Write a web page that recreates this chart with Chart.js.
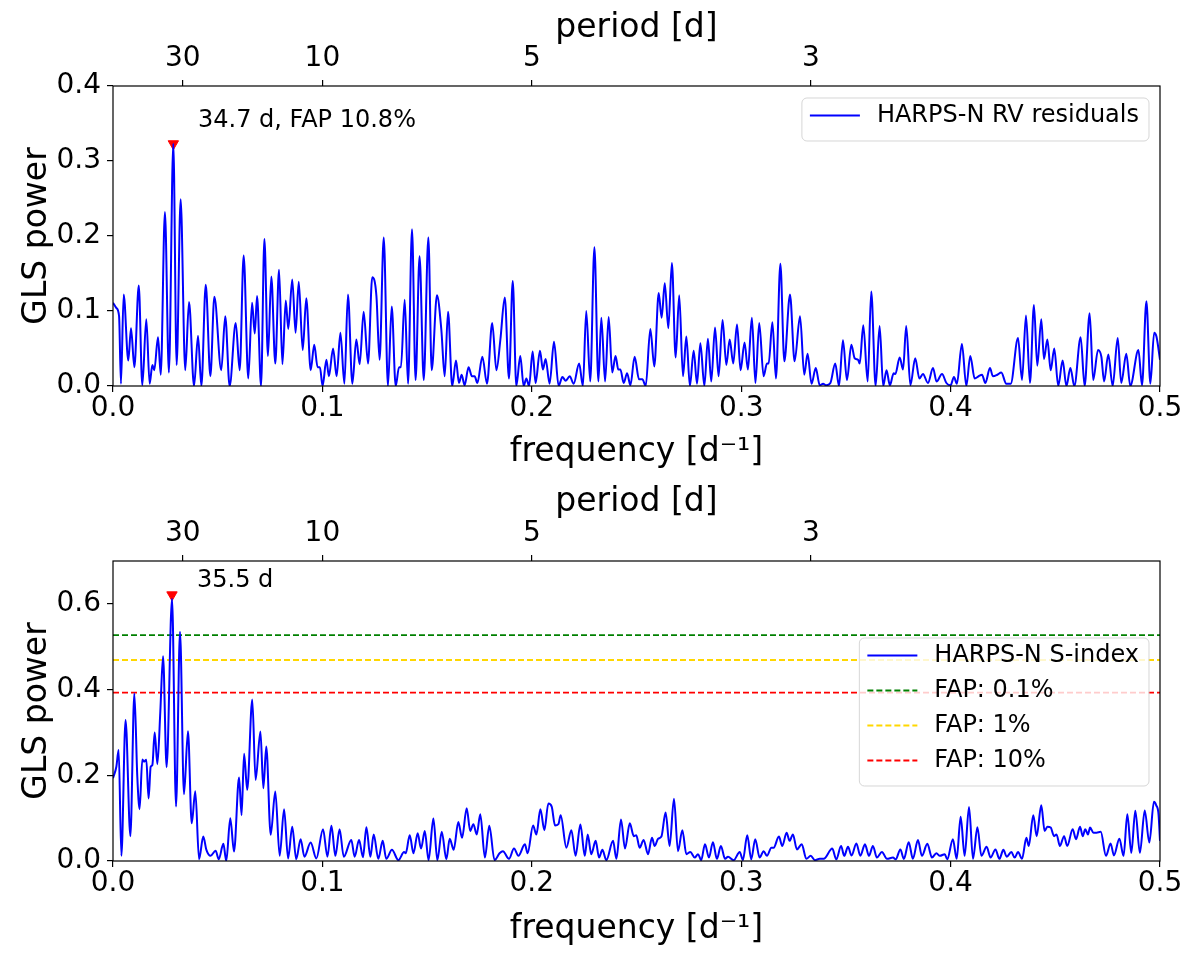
<!DOCTYPE html>
<html><head><meta charset="utf-8">
<script src="https://cdn.jsdelivr.net/npm/chart.js@4/dist/chart.umd.min.js"></script>
<style>
body{margin:0;background:#fff}
.p{position:absolute;left:0;width:1200px;height:477px}
#w1{top:0}#w2{top:477px}
</style></head><body>
<div class="p" id="w1"><canvas id="c1"></canvas></div>
<div class="p" id="w2"><canvas id="c2"></canvas></div>
<script>
// ---- data ----
const freqTop=[0.0000,0.0016,0.0029,0.0038,0.0051,0.0073,0.0086,0.0102,0.0123,0.0140,0.0159,0.0175,0.0188,0.0197,0.0215,0.0228,0.0248,0.0267,0.0288,0.0304,0.0323,0.0345,0.0363,0.0387,0.0406,0.0422,0.0443,0.0465,0.0484,0.0517,0.0536,0.0557,0.0586,0.0605,0.0624,0.0646,0.0664,0.0677,0.0688,0.0707,0.0723,0.0740,0.0756,0.0775,0.0793,0.0809,0.0825,0.0837,0.0856,0.0872,0.0887,0.0906,0.0923,0.0944,0.0961,0.0977,0.0988,0.1001,0.1019,0.1031,0.1051,0.1068,0.1086,0.1105,0.1122,0.1143,0.1162,0.1178,0.1197,0.1218,0.1238,0.1258,0.1273,0.1293,0.1313,0.1331,0.1350,0.1366,0.1375,0.1393,0.1409,0.1428,0.1445,0.1464,0.1484,0.1506,0.1522,0.1547,0.1568,0.1584,0.1600,0.1620,0.1638,0.1652,0.1665,0.1679,0.1698,0.1714,0.1727,0.1740,0.1764,0.1786,0.1811,0.1831,0.1850,0.1871,0.1891,0.1909,0.1926,0.1945,0.1961,0.1974,0.1987,0.2004,0.2018,0.2039,0.2053,0.2066,0.2085,0.2106,0.2128,0.2146,0.2162,0.2181,0.2200,0.2226,0.2244,0.2260,0.2279,0.2299,0.2318,0.2332,0.2350,0.2367,0.2384,0.2400,0.2413,0.2423,0.2439,0.2455,0.2471,0.2491,0.2512,0.2528,0.2544,0.2566,0.2585,0.2606,0.2620,0.2635,0.2652,0.2669,0.2687,0.2704,0.2722,0.2738,0.2755,0.2773,0.2789,0.2805,0.2824,0.2841,0.2857,0.2875,0.2892,0.2911,0.2929,0.2945,0.2962,0.2980,0.2997,0.3016,0.3032,0.3051,0.3068,0.3086,0.3107,0.3123,0.3131,0.3149,0.3166,0.3187,0.3206,0.3233,0.3255,0.3281,0.3301,0.3317,0.3336,0.3356,0.3375,0.3391,0.3406,0.3426,0.3449,0.3467,0.3486,0.3505,0.3526,0.3542,0.3558,0.3566,0.3583,0.3604,0.3621,0.3642,0.3661,0.3678,0.3694,0.3710,0.3728,0.3736,0.3757,0.3773,0.3788,0.3808,0.3831,0.3851,0.3868,0.3892,0.3916,0.3933,0.3959,0.3980,0.4000,0.4016,0.4030,0.4054,0.4075,0.4094,0.4115,0.4134,0.4150,0.4166,0.4188,0.4202,0.4223,0.4242,0.4266,0.4287,0.4322,0.4341,0.4360,0.4379,0.4398,0.4414,0.4433,0.4446,0.4462,0.4478,0.4495,0.4514,0.4535,0.4553,0.4572,0.4591,0.4621,0.4640,0.4664,0.4681,0.4704,0.4720,0.4733,0.4753,0.4774,0.4798,0.4815,0.4839,0.4858,0.4897,0.4914,0.4935,0.4954,0.4972,0.4983,0.5000];
const powerTop=[0.111,0.104,0.093,0.003,0.122,0.034,0.077,0.025,0.134,0.001,0.089,0.003,0.028,0.021,0.065,0.015,0.232,0.018,0.323,0.028,0.249,0.021,0.112,0.000,0.067,0.000,0.135,0.013,0.119,0.021,0.093,0.000,0.084,0.021,0.174,0.010,0.111,0.070,0.120,0.000,0.196,0.040,0.146,0.030,0.155,0.029,0.114,0.076,0.142,0.071,0.139,0.048,0.117,0.021,0.055,0.025,0.025,0.000,0.035,0.013,0.050,0.013,0.071,0.003,0.122,0.003,0.062,0.029,0.099,0.030,0.145,0.120,0.035,0.198,0.000,0.106,0.000,0.025,0.025,0.115,0.003,0.209,0.008,0.173,0.008,0.198,0.021,0.121,0.075,0.013,0.099,0.000,0.034,0.004,0.015,0.001,0.025,0.013,0.013,0.004,0.039,0.003,0.084,0.021,0.062,0.118,0.010,0.140,0.000,0.040,0.000,0.010,0.000,0.046,0.004,0.047,0.022,0.036,0.003,0.059,0.000,0.012,0.007,0.013,0.003,0.030,0.000,0.100,0.006,0.185,0.006,0.091,0.006,0.092,0.018,0.040,0.022,0.022,0.004,0.017,0.001,0.039,0.009,0.009,0.000,0.076,0.026,0.124,0.091,0.137,0.077,0.164,0.038,0.121,0.013,0.066,0.000,0.047,0.003,0.057,0.000,0.063,0.006,0.078,0.013,0.088,0.028,0.062,0.030,0.082,0.021,0.058,0.022,0.091,0.004,0.084,0.013,0.030,0.030,0.085,0.010,0.163,0.033,0.122,0.033,0.093,0.015,0.043,0.003,0.024,0.001,0.003,0.001,0.004,0.030,0.000,0.061,0.008,0.055,0.037,0.035,0.030,0.081,0.006,0.126,0.000,0.080,0.000,0.021,0.001,0.017,0.016,0.038,0.022,0.080,0.001,0.037,0.010,0.016,0.004,0.024,0.006,0.016,0.004,0.001,0.012,0.003,0.056,0.000,0.040,0.010,0.013,0.015,0.004,0.024,0.013,0.015,0.018,0.003,0.003,0.064,0.008,0.094,0.004,0.108,0.027,0.089,0.036,0.062,0.021,0.050,0.000,0.034,0.000,0.024,0.000,0.065,0.000,0.097,0.008,0.048,0.039,0.006,0.042,0.000,0.064,0.004,0.043,0.000,0.048,0.001,0.113,0.003,0.071,0.066,0.035];
const freqBot=[0.0000,0.0016,0.0027,0.0040,0.0060,0.0083,0.0102,0.0116,0.0127,0.0140,0.0148,0.0159,0.0170,0.0180,0.0188,0.0199,0.0212,0.0226,0.0239,0.0256,0.0282,0.0301,0.0320,0.0339,0.0358,0.0376,0.0393,0.0411,0.0431,0.0446,0.0466,0.0490,0.0505,0.0527,0.0541,0.0560,0.0578,0.0602,0.0614,0.0626,0.0641,0.0665,0.0681,0.0704,0.0718,0.0732,0.0753,0.0775,0.0796,0.0817,0.0836,0.0856,0.0875,0.0896,0.0914,0.0944,0.0971,0.1003,0.1024,0.1043,0.1062,0.1082,0.1102,0.1138,0.1154,0.1175,0.1194,0.1210,0.1229,0.1245,0.1267,0.1288,0.1305,0.1332,0.1363,0.1390,0.1398,0.1417,0.1435,0.1455,0.1471,0.1489,0.1507,0.1530,0.1549,0.1570,0.1592,0.1608,0.1627,0.1649,0.1667,0.1689,0.1706,0.1721,0.1737,0.1754,0.1776,0.1797,0.1822,0.1846,0.1862,0.1891,0.1915,0.1936,0.1967,0.1980,0.2006,0.2022,0.2041,0.2060,0.2079,0.2095,0.2111,0.2127,0.2138,0.2165,0.2189,0.2209,0.2232,0.2253,0.2267,0.2284,0.2305,0.2321,0.2337,0.2356,0.2388,0.2404,0.2426,0.2445,0.2468,0.2487,0.2499,0.2515,0.2534,0.2555,0.2574,0.2587,0.2603,0.2619,0.2639,0.2658,0.2679,0.2698,0.2719,0.2738,0.2757,0.2778,0.2794,0.2809,0.2827,0.2846,0.2865,0.2884,0.2903,0.2923,0.2937,0.2964,0.2993,0.3008,0.3029,0.3048,0.3067,0.3088,0.3107,0.3123,0.3144,0.3155,0.3180,0.3196,0.3217,0.3231,0.3247,0.3266,0.3289,0.3311,0.3332,0.3352,0.3375,0.3394,0.3435,0.3454,0.3477,0.3492,0.3510,0.3527,0.3550,0.3569,0.3591,0.3610,0.3629,0.3648,0.3672,0.3696,0.3725,0.3738,0.3760,0.3777,0.3800,0.3820,0.3844,0.3863,0.3889,0.3911,0.3932,0.3949,0.3972,0.3984,0.4011,0.4029,0.4048,0.4067,0.4088,0.4107,0.4128,0.4147,0.4172,0.4191,0.4214,0.4233,0.4252,0.4268,0.4290,0.4306,0.4322,0.4341,0.4362,0.4373,0.4395,0.4411,0.4433,0.4449,0.4462,0.4478,0.4494,0.4506,0.4522,0.4542,0.4557,0.4583,0.4599,0.4618,0.4631,0.4643,0.4656,0.4666,0.4682,0.4697,0.4717,0.4742,0.4764,0.4780,0.4806,0.4826,0.4844,0.4863,0.4882,0.4904,0.4927,0.4949,0.4971,0.4982,0.4993,0.5000];
const powerBot=[0.193,0.220,0.259,0.012,0.329,0.058,0.391,0.197,0.121,0.237,0.232,0.236,0.146,0.220,0.224,0.300,0.226,0.349,0.478,0.219,0.612,0.127,0.535,0.156,0.303,0.088,0.163,0.004,0.057,0.026,0.012,0.024,0.004,0.040,0.000,0.100,0.022,0.195,0.107,0.250,0.166,0.377,0.189,0.302,0.170,0.267,0.061,0.162,0.012,0.121,0.006,0.080,0.004,0.051,0.010,0.043,0.006,0.074,0.010,0.082,0.012,0.074,0.010,0.049,0.010,0.049,0.009,0.079,0.010,0.062,0.005,0.047,0.005,0.026,0.002,0.021,0.018,0.060,0.018,0.065,0.029,0.070,0.002,0.099,0.002,0.068,0.004,0.052,0.026,0.091,0.054,0.123,0.070,0.086,0.062,0.109,0.008,0.082,0.002,0.018,0.023,0.005,0.029,0.012,0.039,0.018,0.083,0.062,0.121,0.072,0.134,0.127,0.083,0.086,0.107,0.031,0.072,0.012,0.085,0.012,0.062,0.016,0.047,0.008,0.026,0.002,0.047,0.005,0.097,0.029,0.088,0.058,0.060,0.031,0.049,0.016,0.054,0.035,0.052,0.057,0.113,0.035,0.145,0.023,0.072,0.016,0.021,0.008,0.016,0.002,0.039,0.008,0.044,0.005,0.035,0.005,0.010,0.002,0.021,0.002,0.060,0.004,0.051,0.008,0.023,0.012,0.031,0.031,0.057,0.035,0.066,0.047,0.062,0.027,0.039,0.005,0.012,0.002,0.005,0.005,0.029,0.004,0.035,0.012,0.033,0.013,0.041,0.012,0.039,0.012,0.035,0.008,0.021,0.005,0.008,0.004,0.027,0.005,0.044,0.005,0.049,0.012,0.040,0.008,0.018,0.012,0.016,0.004,0.051,0.005,0.103,0.012,0.126,0.005,0.079,0.012,0.033,0.008,0.027,0.005,0.026,0.010,0.021,0.008,0.021,0.005,0.054,0.035,0.107,0.058,0.130,0.070,0.080,0.078,0.058,0.062,0.035,0.058,0.035,0.074,0.051,0.080,0.058,0.074,0.062,0.078,0.066,0.066,0.068,0.012,0.041,0.013,0.052,0.012,0.109,0.019,0.117,0.019,0.118,0.043,0.138,0.130,0.109,0.047];
const freqTicks=[0,0.1,0.2,0.3,0.4,0.5];
const periodTicks=[30,10,5,3];
const powerTicksTop=[0,0.1,0.2,0.3,0.4];
const powerTicksBot=[0,0.2,0.4,0.6];
const fapLevels=[0.527,0.469,0.393];
const fapLabels=['FAP: 0.1%','FAP: 1%','FAP: 10%'];
const fapColors=['#008000','#ffd700','#ff0000'];
const peakTopPeriod=34.7, peakTopPower=0.323, peakTopText='34.7 d, FAP 10.8%';
const peakBotPeriod=35.5, peakBotPower=0.621, peakBotText='35.5 d';

// ---- plugins ----
const FONT='"DejaVu Sans", sans-serif';
const framePlugin={id:'frame',afterDatasetsDraw(chart){
  const {ctx,chartArea:a}=chart;ctx.save();ctx.strokeStyle='#000';ctx.lineWidth=1.2;
  ctx.strokeRect(a.left,a.top,a.right-a.left,a.bottom-a.top);ctx.restore();}};
const notePlugin={id:'note',afterDatasetsDraw(chart,args,o){
  const {ctx}=chart;const sx=chart.scales.x,sy=chart.scales.y;ctx.save();
  ctx.font='24px '+FONT;ctx.fillStyle='#000';ctx.textAlign='left';ctx.textBaseline='middle';
  ctx.fillText(o.text,sx.getPixelForValue(o.x),sy.getPixelForValue(o.y));ctx.restore();}};
const boxLegend={id:'boxLegend',afterDatasetsDraw(chart,args,o){
  const {ctx,chartArea:a}=chart;
  const items=chart.data.datasets.filter(d=>d.inLegend);
  ctx.save();ctx.font='24px '+FONT;
  const tw=Math.max(...items.map(d=>ctx.measureText(d.label).width));
  const w=75+tw+10,h=items.length*35+8;
  const x=a.right-o.right-w,y=a.top+o.top;
  ctx.beginPath();ctx.roundRect(x,y,w,h,5);
  ctx.fillStyle='rgba(255,255,255,0.8)';ctx.fill();
  ctx.strokeStyle='rgba(204,204,204,0.8)';ctx.lineWidth=1;ctx.stroke();
  items.forEach((d,i)=>{const cy=y+17.5+35*i;
    ctx.beginPath();ctx.setLineDash(d.borderDash||[]);ctx.strokeStyle=d.borderColor;ctx.lineWidth=d.borderWidth;
    ctx.moveTo(x+8,cy);ctx.lineTo(x+58,cy);ctx.stroke();ctx.setLineDash([]);
    ctx.fillStyle='#000';ctx.textAlign='left';ctx.textBaseline='middle';ctx.fillText(d.label,x+75,cy);});
  ctx.restore();}};

function scales(yTicks,yMax,topH,botH,topPad){
  const grid={display:true,drawOnChartArea:false,drawTicks:true,tickLength:6,color:'#000',lineWidth:1.2};
  const tf={family:FONT,size:28};
  const titleF={family:FONT,size:33,lineHeight:1.2};
  return {
    x:{type:'linear',position:'bottom',min:0,max:0.5,grid,border:{display:false},
      afterBuildTicks:s=>{s.ticks=freqTicks.map(v=>({value:v}));},
      afterFit:s=>{s.height=botH;},
      ticks:{font:tf,color:'#000',padding:0,autoSkip:false,maxRotation:0,callback:v=>v.toFixed(1)},
      title:{display:true,text:'frequency [d⁻¹]',font:titleF,color:'#000',padding:{top:0,bottom:5}}},
    xt:{type:'linear',position:'top',min:0,max:0.5,grid,border:{display:false},
      afterBuildTicks:s=>{s.ticks=periodTicks.map(p=>({value:1/p}));},
      afterFit:s=>{s.height=topH;},
      ticks:{font:tf,color:'#000',padding:4.5,autoSkip:false,maxRotation:0,callback:v=>String(Math.round(1/v))},
      title:{display:true,text:'period [d]',font:titleF,color:'#000',padding:{top:topPad,bottom:0}}},
    y:{type:'linear',position:'left',min:0,max:yMax,grid,border:{display:false},
      afterBuildTicks:s=>{s.ticks=yTicks.map(v=>({value:v}));},
      afterFit:s=>{s.width=113;},
      ticks:{font:tf,color:'#000',padding:6,autoSkip:false,callback:v=>v.toFixed(1)},
      title:{display:true,text:'GLS power',font:titleF,color:'#000',padding:{top:18,bottom:0}}}
  };
}
function pts(fs,ps){return fs.map((f,i)=>({x:f,y:ps[i]}));}
const common={responsive:true,maintainAspectRatio:false,animation:false,
  layout:{padding:{left:0,right:40,top:0,bottom:0}},
  plugins:{legend:{display:false},tooltip:{enabled:false}},
  elements:{point:{radius:0}}};

new Chart(document.getElementById('c1'),{type:'line',
  data:{datasets:[
    {label:'HARPS-N RV residuals',inLegend:true,data:pts(freqTop,powerTop),borderColor:'#0000ff',borderWidth:2,
     cubicInterpolationMode:'monotone',pointRadius:0,xAxisID:'x',yAxisID:'y'},
    {label:'peak',data:[{x:1/peakTopPeriod,y:peakTopPower}],showLine:false,pointStyle:'triangle',rotation:180,
     pointRadius:6,backgroundColor:'#ff0000',borderColor:'#ff0000',borderWidth:1,xAxisID:'x',yAxisID:'y'}]},
  options:Object.assign({},common,{scales:scales(powerTicksTop,0.4,86,91,9),
    plugins:Object.assign({},common.plugins,{note:{text:peakTopText,x:0.0406,y:0.354},boxLegend:{right:11,top:12}})}),
  plugins:[framePlugin,notePlugin,boxLegend]});

const botSets=[{label:'HARPS-N S-index',inLegend:true,data:pts(freqBot,powerBot),borderColor:'#0000ff',borderWidth:2,
   cubicInterpolationMode:'monotone',pointRadius:0,xAxisID:'x',yAxisID:'y'}];
fapLevels.forEach((l,i)=>botSets.push({label:fapLabels[i],inLegend:true,data:[{x:0,y:l},{x:0.5,y:l}],
  borderColor:fapColors[i],borderWidth:1.8,borderDash:[6,3],pointRadius:0,xAxisID:'x',yAxisID:'y'}));
botSets.push({label:'peak',data:[{x:1/peakBotPeriod,y:peakBotPower}],showLine:false,pointStyle:'triangle',rotation:180,
   pointRadius:6,backgroundColor:'#ff0000',borderColor:'#ff0000',borderWidth:1,xAxisID:'x',yAxisID:'y'});
new Chart(document.getElementById('c2'),{type:'line',
  data:{datasets:botSets},
  options:Object.assign({},common,{scales:scales(powerTicksBot,0.7,84,93,6),
    plugins:Object.assign({},common.plugins,{note:{text:peakBotText,x:0.0401,y:0.653},boxLegend:{right:11,top:77}})}),
  plugins:[framePlugin,notePlugin,boxLegend]});
</script>
</body></html>
